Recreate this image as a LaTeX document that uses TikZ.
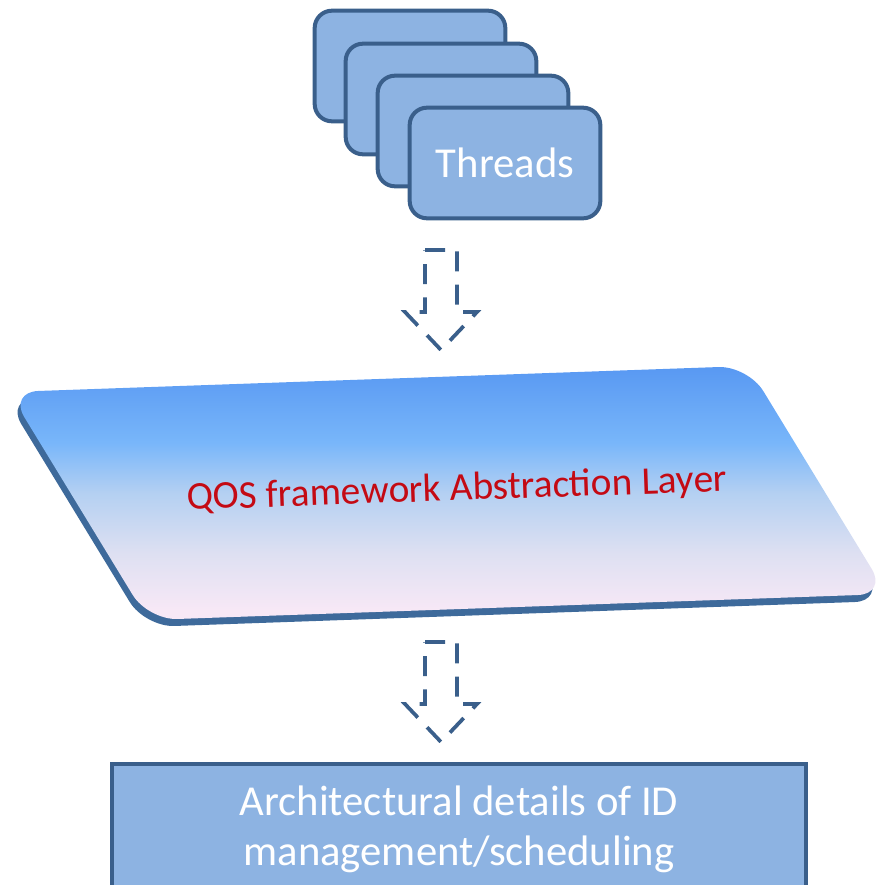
\documentclass[tikz,border=0pt]{standalone}
\usepackage{fontspec}
\setmainfont{Carlito}
\definecolor{cardfill}{RGB}{141,179,226}
\definecolor{cardline}{RGB}{58,95,139}
\definecolor{layertop}{RGB}{88,152,242}
\definecolor{layerhigh}{RGB}{120,182,250}
\definecolor{layermid}{RGB}{180,208,242}
\definecolor{layerlow}{RGB}{222,224,242}
\definecolor{layerbot}{RGB}{247,232,246}
\definecolor{layeredge}{RGB}{62,106,155}
\definecolor{qosred}{RGB}{196,10,20}
% slab gradient, bottom to top (the 25bp..75bp band spans the slab)
\pgfdeclareverticalshading{slabshade}{100bp}{%
  color(0bp)=(layerbot); color(27bp)=(layerbot); color(38bp)=(layerlow);
  color(50bp)=(layermid); color(60bp)=(layerhigh); color(75bp)=(layertop);
  color(100bp)=(layertop)}
\begin{document}
\begin{tikzpicture}[x=0.75pt,y=-0.75pt,
  card/.style={draw=cardline, fill=cardfill, line width=3pt, rounded corners=13pt,
    minimum width=143pt, minimum height=83pt, inner sep=0pt},
  flowarrow/.style={draw=cardline, line width=2.8pt, dash pattern=on 15pt off 10pt, line join=miter},
  layershape/.style={rounded corners=22pt}]
\useasboundingbox (0,0) rectangle (884,885);
\clip (0,0) rectangle (884,885);

% stack of thread cards
\node[card] (t1) at (410,66) {};
\node[card] (t2) at (441,99) {};
\node[card] (t3) at (473,131) {};
\node[card, text=white, font=\fontsize{32}{38}\selectfont] (t4) at (505,163) {Threads};

% dashed block arrow: threads -> layer
\coordinate (a1) at (441,250);
\draw[flowarrow] ([shift={(-16,0)}]a1) -- ++(32,0) -- ++(0,62) -- ++(20,0) -- ++(-36,38) -- ++(-36,-38) -- ++(20,0) -- cycle;

% abstraction layer slab
\fill[layeredge, layershape] (6,399) -- (745,373) -- (884,601) -- (145,627) -- cycle;
\shade[layershape, shading=slabshade]
  (9,392) -- (748,366) -- (887,594) -- (148,620) -- cycle;
\node[text=qosred, font=\fontsize{29.5}{35}\selectfont, rotate=2] (layer) at (457,490) {QOS framework Abstraction Layer};

% dashed block arrow: layer -> architecture
\coordinate (a2) at (441,642);
\draw[flowarrow] ([shift={(-16,0)}]a2) -- ++(32,0) -- ++(0,62) -- ++(20,0) -- ++(-36,38) -- ++(-36,-38) -- ++(20,0) -- cycle;

% architecture box
\node[draw=cardline, fill=cardfill, line width=3pt, minimum width=520.5pt, minimum height=97.5pt,
  text=white, align=center, font=\fontsize{32}{37.5}\selectfont] (arch) at (459,829)
  {Architectural details of ID\\management/scheduling};
\end{tikzpicture}
\end{document}
